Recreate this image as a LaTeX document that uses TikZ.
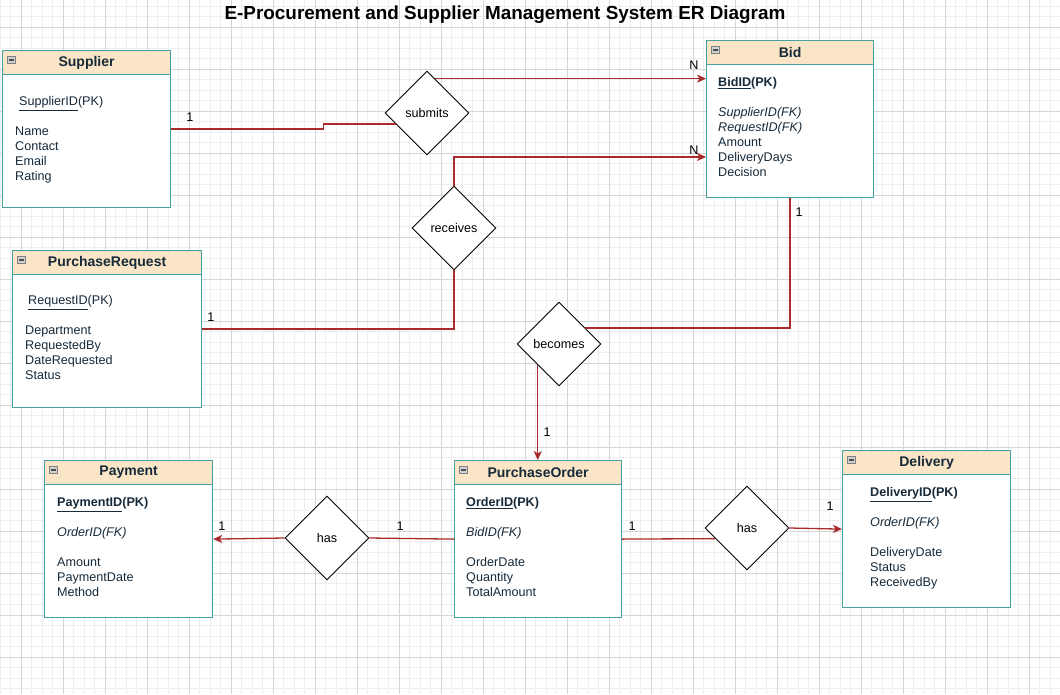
\documentclass[tikz,border=0pt]{standalone}
\usepackage{fontspec}
\setmainfont{Liberation Sans}
\usetikzlibrary{shapes.geometric,calc,arrows.meta}

\definecolor{entline}{RGB}{70,160,160}
\definecolor{entfill}{RGB}{250,229,199}
\definecolor{enttext}{RGB}{22,42,58}
\definecolor{relline}{RGB}{168,42,42}
\definecolor{minorgrid}{RGB}{238,238,238}
\definecolor{majorgrid}{RGB}{214,214,214}

\begin{document}
\begin{tikzpicture}[x=1pt,y=-1pt,
  entity/.style={draw=entline, line width=1.2pt, fill=white, anchor=north west,
    inner sep=0pt, minimum height=157pt},
  enthead/.style={draw=entline, line width=1.2pt, fill=entfill, anchor=north west,
    inner sep=0pt, minimum height=24pt, text=enttext,
    font=\fontsize{14pt}{16pt}\selectfont\bfseries},
  minusbox/.style={draw=gray, fill=gray!35, line width=0.6pt, inner sep=0pt,
    minimum width=8pt, minimum height=7pt,
    path picture={\draw[line width=1.2pt, black!70]
      ([xshift=1.5pt]path picture bounding box.west)
      -- ([xshift=-1.5pt]path picture bounding box.east);}},
  attrs/.style={anchor=north west, align=left, inner sep=0pt, text=enttext,
    font=\fontsize{12.6pt}{15pt}\selectfont},
  rel/.style={draw, diamond, aspect=1, minimum width=84pt, minimum height=84pt,
    inner sep=0pt, fill=white, line width=0.9pt,
    font=\fontsize{12.6pt}{14pt}\selectfont},
  link/.style={draw=relline, line width=1.3pt},
  card/.style={inner sep=0pt, font=\fontsize{12.6pt}{14pt}\selectfont},
  >={Stealth[length=9pt,width=8pt,inset=2.5pt]}
]
\useasboundingbox (0,0) rectangle (1060,694);
\fill[white] (0,0) rectangle (1060,694);

% background grid
\foreach \i in {0,...,100}
  \draw[minorgrid, line width=0.8pt] ({\i*10.5},0) -- ({\i*10.5},694);
\foreach \j in {0,...,65}
  \draw[minorgrid, line width=0.8pt] (0,{6+\j*10.5}) -- (1060,{6+\j*10.5});
\foreach \i in {0,...,24}
  \draw[majorgrid, line width=1pt] ({21+\i*42},0) -- ({21+\i*42},694);
\foreach \j in {0,...,15}
  \draw[majorgrid, line width=1pt] (0,{27+\j*42}) -- (1060,{27+\j*42});

\node[font=\fontsize{18.9pt}{21pt}\selectfont\bfseries] (title) at (505,14.5)
  {E-Procurement and Supplier Management System ER Diagram};

% entities
\node[entity, minimum width=168pt] (supplier) at (2,50) {};
\node[enthead, minimum width=168pt] (supplierhead) at (supplier.north west) {Supplier};
\node[minusbox] (supplierminus) at ($(supplier.north west)+(9.5,10)$) {};
\node[attrs] (supplierattrs) at (15,96.5)
  {\hspace*{4pt}\underline{SupplierID}(PK)\\[15pt] Name\\ Contact\\ Email\\ Rating};

\node[entity, minimum width=167pt] (bid) at (706,40) {};
\node[enthead, minimum width=167pt] (bidhead) at (bid.north west) {Bid};
\node[minusbox] (bidminus) at ($(bid.north west)+(9.5,10)$) {};
\node[attrs] (bidattrs) at (718,77.5)
  {\textbf{\underline{BidID}(PK)}\\[15pt] \textit{SupplierID(FK)}\\ \textit{RequestID(FK)}\\
   Amount\\ DeliveryDays\\ Decision};

\node[entity, minimum width=189pt] (request) at (12,250) {};
\node[enthead, minimum width=189pt] (requesthead) at (request.north west) {PurchaseRequest};
\node[minusbox] (requestminus) at ($(request.north west)+(9.5,10)$) {};
\node[attrs] (requestattrs) at (25,295.5)
  {\hspace*{3pt}\underline{RequestID}(PK)\\[15pt] Department\\ RequestedBy\\ DateRequested\\ Status};

\node[entity, minimum width=168pt] (payment) at (44,460) {};
\node[enthead, minimum width=168pt] (paymenthead) at (payment.north west) {Payment};
\node[minusbox] (paymentminus) at ($(payment.north west)+(9.5,10)$) {};
\node[attrs] (paymentattrs) at (57,497.5)
  {\textbf{\underline{PaymentID}(PK)}\\[15pt] \textit{OrderID(FK)}\\[15pt]
   Amount\\ PaymentDate\\ Method};

\node[entity, minimum width=167pt] (order) at (454,460) {};
\node[enthead, minimum width=167pt] (orderhead) at (order.north west) {PurchaseOrder};
\node[minusbox] (orderminus) at ($(order.north west)+(9.5,10)$) {};
\node[attrs] (orderattrs) at (466,497.5)
  {\textbf{\underline{OrderID}(PK)}\\[15pt] \textit{BidID(FK)}\\[15pt]
   OrderDate\\ Quantity\\ TotalAmount};

\node[entity, minimum width=168pt] (delivery) at (842,450) {};
\node[enthead, minimum width=168pt] (deliveryhead) at (delivery.north west) {Delivery};
\node[minusbox] (deliveryminus) at ($(delivery.north west)+(9.5,10)$) {};
\node[attrs] (deliveryattrs) at (870,487.5)
  {\textbf{\underline{DeliveryID}(PK)}\\[15pt] \textit{OrderID(FK)}\\[15pt]
   DeliveryDate\\ Status\\ ReceivedBy};

% relationships
\node[rel] (submits) at (427,113) {submits};
\node[rel] (receives) at (454,228) {receives};
\node[rel] (becomes) at (559,344) {becomes};
\node[rel] (hasleft) at (327,538) {has};
\node[rel] (hasright) at (747,528) {has};

% connectors
\draw[link] (supplier.east) -- ++(152,0) |- ($(submits.west)!0.26!(submits.south)$);
\draw[link,->] ($(submits.north)!0.19!(submits.east)$) coordinate (subout)
  -- (subout -| bid.west);
\draw[link] (request.east) -| (receives.south);
\draw[link,->] (receives.north) |- ([yshift=-117pt]bid.north west);
\draw[link] (bid.south) |- ($(becomes.north)!0.62!(becomes.east)$);
\draw[link,->] (becomes.south west) -- (becomes.south west |- order.north);
\draw[link] (order.west) -- (hasleft.east);
\draw[link,->] (hasleft.west) -- (payment.east);
\draw[link] (order.east) -- ($(hasright.west)!0.25!(hasright.south)$);
\draw[link,->] (hasright.east) -- (delivery.west);

% cardinalities
\node[card] (c1) at (190,117) {1};
\node[card] (c2) at (694,65) {N};
\node[card] (c3) at (694,150) {N};
\node[card] (c4) at (211,317) {1};
\node[card] (c5) at (799,212) {1};
\node[card] (c6) at (547,432) {1};
\node[card] (c7) at (222,526) {1};
\node[card] (c8) at (400,526) {1};
\node[card] (c9) at (632,526) {1};
\node[card] (c10) at (830,506) {1};
\end{tikzpicture}
\end{document}
